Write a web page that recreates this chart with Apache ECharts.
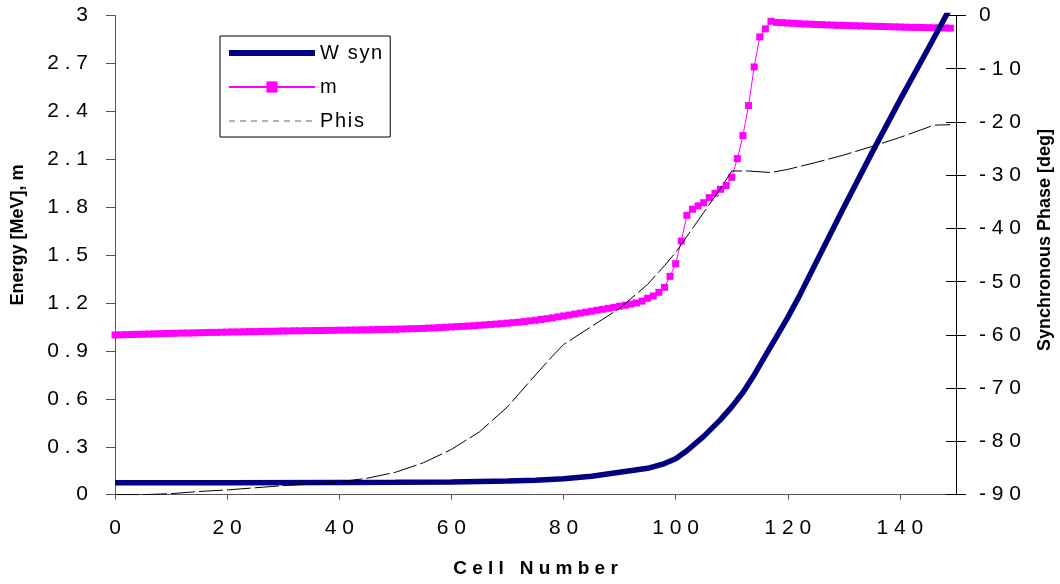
<!DOCTYPE html>
<html><head><meta charset="utf-8">
<script src="https://cdn.jsdelivr.net/npm/echarts@6/dist/echarts.min.js"></script>
<style>html,body{margin:0;padding:0;background:#fff}#c{width:1060px;height:584px}</style>
</head><body><div id="c"></div>
<script>
// ---- data ----
const xTickValues = [0, 20, 40, 60, 80, 100, 120, 140];
const seriesNames = ['W syn', 'm', 'Phis'];

// m : one value per cell, cells 0..149
const mValues = [
  1.000,1.001,1.002,1.003,1.004,1.005,1.006,1.007,1.008,1.009,
  1.010,1.011,1.012,1.012,1.013,1.014,1.015,1.016,1.016,1.017,
  1.018,1.019,1.019,1.020,1.021,1.021,1.022,1.023,1.023,1.024,
  1.025,1.025,1.026,1.026,1.027,1.027,1.028,1.028,1.029,1.029,
  1.030,1.030,1.031,1.031,1.032,1.032,1.033,1.034,1.034,1.035,
  1.036,1.037,1.038,1.039,1.040,1.041,1.043,1.044,1.046,1.048,
  1.050,1.052,1.054,1.056,1.058,1.061,1.063,1.066,1.068,1.071,
  1.074,1.077,1.080,1.084,1.088,1.092,1.097,1.102,1.107,1.113,
  1.119,1.125,1.131,1.137,1.143,1.149,1.155,1.161,1.167,1.173,
  1.180,1.186,1.193,1.200,1.212,1.230,1.244,1.267,1.298,1.367,
  1.446,1.588,1.749,1.787,1.808,1.828,1.860,1.887,1.912,1.935,
  1.987,2.104,2.248,2.436,2.678,2.866,2.916,2.964,2.957,2.955,
  2.953,2.951,2.949,2.947,2.946,2.944,2.943,2.941,2.940,2.939,
  2.938,2.937,2.936,2.935,2.934,2.933,2.932,2.931,2.930,2.929,
  2.928,2.927,2.926,2.926,2.925,2.924,2.923,2.923,2.922,2.921
];

// W syn : energy [MeV] at selected cells
const wCells  = [0, 20, 40, 50, 60, 70, 75, 80, 85, 90, 95, 98, 100, 102, 105, 108, 110, 112, 114, 116, 118, 120, 122, 125, 130, 135, 140, 145, 149];
const wValues = [0.075,0.075,0.077,0.078,0.080,0.085,0.090,0.100,0.115,0.140,0.165,0.195,0.225,0.275,0.365,0.470,0.550,0.640,0.750,0.870,0.990,1.110,1.240,1.450,1.800,2.140,2.470,2.790,3.050];

// Phis : synchronous phase [deg] at selected cells
const phiCells  = [0, 5, 10, 15, 20, 25, 30, 35, 40, 45, 50, 55, 60, 65, 70, 75, 78, 80, 85, 90, 95, 98, 100, 102, 105, 108, 110, 113, 117, 120, 125, 130, 135, 140, 145, 146, 149];
const phiValues = [-90,-90,-89.8,-89.4,-89.1,-88.7,-88.3,-88.0,-87.6,-86.9,-85.8,-84.0,-81.5,-78.2,-73.5,-67.5,-64.0,-61.8,-58.4,-55.0,-50.5,-47.0,-44.5,-41.5,-37.0,-32.5,-29.2,-29.2,-29.5,-28.9,-27.6,-26.2,-24.6,-22.9,-21.0,-20.6,-20.5];

// ---- chart ----
const FONT = '"Liberation Sans", Arial, sans-serif';
const spaced = s => String(s).split('').join(' ');
const hair = s => String(s).split('').join('\u200A');
const fmtNum = v => spaced(String(+Number(v).toFixed(2)));
const noSymbol = {color: 'transparent', borderWidth: 0, opacity: 0};

const chart = echarts.init(document.getElementById('c'), null, {renderer: 'canvas'});
chart.setOption({
  backgroundColor: '#ffffff',
  animation: false,
  textStyle: {fontFamily: FONT},
  grid: {left: 115, right: 104, top: 15.5, bottom: 89.3, containLabel: false, outerBoundsMode: 'none'},
  legend: {
    orient: 'vertical', left: 220, top: 36,
    padding: [7, 8, 6, 6],
    itemWidth: 86, itemHeight: 14, itemGap: 14,
    borderColor: '#000', borderWidth: 1, borderRadius: 0,
    backgroundColor: '#fff',
    textStyle: {fontSize: 20, color: '#000', fontFamily: FONT},
    formatter: n => hair(n),
    data: [
      {name: seriesNames[0], itemStyle: noSymbol, lineStyle: {width: 6, color: '#000080'}},
      {name: seriesNames[1]},
      {name: seriesNames[2], itemStyle: noSymbol, lineStyle: {type: [6, 5], color: '#666', width: 1}}
    ]
  },
  xAxis: {
    type: 'value', min: 0, max: 150, interval: 20,
    name: spaced('Cell') + '   ' + spaced('Number'),
    nameLocation: 'middle', nameGap: 65, nameMoveOverlap: false,
    nameTextStyle: {fontSize: 19, fontWeight: 'bold', color: '#000', fontFamily: FONT},
    axisLine: {show: true, onZero: false, lineStyle: {color: '#555', width: 1}},
    axisTick: {show: true, inside: false, length: 5, lineStyle: {color: '#555'}, customValues: xTickValues},
    axisLabel: {fontSize: 21, color: '#000', margin: 23, formatter: v => spaced(v), customValues: xTickValues},
    splitLine: {show: false}
  },
  yAxis: [
    {
      type: 'value', min: 0, max: 3, interval: 0.3, position: 'left',
      name: 'Energy [MeV], m', nameLocation: 'middle', nameRotate: 90, nameGap: 88, nameMoveOverlap: false,
      nameTextStyle: {fontSize: 18, fontWeight: 'bold', color: '#000', fontFamily: FONT, padding: [0, 0, 0, 40]},
      axisLine: {show: true, onZero: false, lineStyle: {color: '#555', width: 1}},
      axisTick: {show: true, inside: false, length: 9, lineStyle: {color: '#555'}},
      axisLabel: {fontSize: 21, color: '#000', margin: 27, formatter: fmtNum},
      splitLine: {show: false}
    },
    {
      type: 'value', min: -90, max: 0, interval: 10, position: 'right',
      name: 'Synchronous Phase [deg]', nameLocation: 'middle', nameRotate: 90, nameGap: 80, nameMoveOverlap: false,
      nameTextStyle: {fontSize: 18, fontWeight: 'bold', color: '#000', fontFamily: FONT, padding: [0, 0, 0, 30]},
      axisLine: {show: true, onZero: false, lineStyle: {color: '#000', width: 1}},
      axisTick: {show: true, inside: false, length: 10, lineStyle: {color: '#000'}},
      axisLabel: {fontSize: 21, color: '#000', margin: 23, formatter: fmtNum},
      splitLine: {show: false}
    },
    {
      type: 'value', min: -90, max: 0, interval: 10, position: 'right',
      axisLine: {show: true, onZero: false, lineStyle: {color: '#000', width: 1}},
      axisTick: {show: true, inside: true, length: 10, lineStyle: {color: '#000'}},
      axisLabel: {show: false},
      splitLine: {show: false}
    }
  ],
  series: [
    {
      name: seriesNames[0], type: 'line', xAxisIndex: 0, yAxisIndex: 0, z: 3,
      data: wCells.map((c, i) => [c, wValues[i]]),
      symbol: 'none', clip: true,
      lineStyle: {color: '#000080', width: 5.5},
      itemStyle: {color: '#000080'}
    },
    {
      name: seriesNames[1], type: 'line', xAxisIndex: 0, yAxisIndex: 0, z: 2,
      data: mValues.map((v, i) => [i, v]),
      symbol: 'rect', symbolSize: 7, showSymbol: true, showAllSymbol: true,
      lineStyle: {color: '#FF00FF', width: 1},
      itemStyle: {color: '#FF00FF'}
    },
    {
      name: seriesNames[2], type: 'line', xAxisIndex: 0, yAxisIndex: 1, z: 4,
      data: phiCells.map((c, i) => [c, phiValues[i]]),
      symbol: 'none',
      lineStyle: {color: '#000', width: 1, type: [24, 4]},
      itemStyle: {color: '#000'}
    }
  ]
});
</script>
</body></html>
